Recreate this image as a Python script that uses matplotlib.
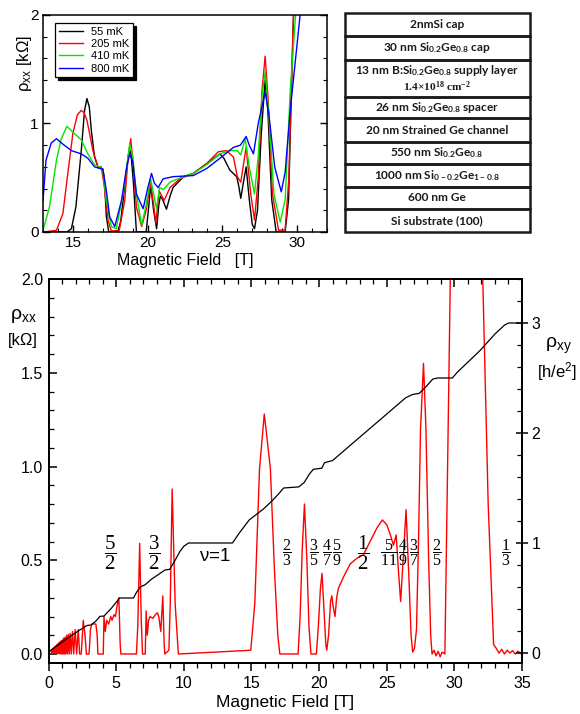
import matplotlib
matplotlib.use("Agg")
import matplotlib.pyplot as plt
from matplotlib.ticker import MultipleLocator
from matplotlib.patches import Rectangle

plt.rcParams["font.family"] = ["Liberation Sans", "DejaVu Sans"]
plt.rcParams["mathtext.default"] = "regular"

# ---------------- data ----------------
# temperature series (inset): magnetic field [T] and rho_xx [kOhm]
temp_labels = ["55 mK", "205 mK", "410 mK", "800 mK"]
temp_colors = ["#000000", "#ff0000", "#00e600", "#0000ff"]

b_55 = [13.0, 14.6, 14.9, 15.2, 15.56, 15.78, 15.94, 16.1, 16.23, 16.45, 16.7, 17.0, 17.1, 17.24,
        17.4, 18.0, 18.2, 18.45, 18.7, 18.87, 19.05, 19.25, 19.9, 20.05, 20.2, 20.4, 20.6, 20.75,
        20.85, 21.0, 21.26, 21.5, 21.7, 22.4, 23.05, 23.95, 24.84, 25.1, 25.5, 25.96, 26.1, 26.23,
        26.4, 26.59, 26.8, 27.0, 27.15, 27.35, 27.6, 27.86, 28.05, 28.3, 28.6, 29.2, 29.43, 29.6,
        29.76, 29.9]
r_55 = [0.0, 0.0, 0.03, 0.23, 0.75, 1.12, 1.23, 1.15, 0.94, 0.69, 0.59, 0.58, 0.5, 0.14,
        0.0, 0.0, 0.1, 0.4, 0.7, 0.75, 0.45, 0.0, 0.0, 0.2, 0.43, 0.2, 0.03, 0.25,
        0.33, 0.3, 0.21, 0.33, 0.41, 0.51, 0.54, 0.63, 0.72, 0.68, 0.57, 0.51, 0.42, 0.31,
        0.45, 0.6, 0.3, 0.07, 0.03, 0.2, 0.9, 1.4, 1.1, 0.3, 0.0, 0.0, 0.3, 1.2,
        2.0, 2.5]

b_205 = [13.0, 13.9, 14.33, 14.66, 15.0, 15.3, 15.56, 15.75, 15.94, 16.34, 16.68, 16.9, 17.1,
         17.35, 17.57, 18.1, 18.47, 18.7, 18.87, 19.05, 19.25, 19.6, 19.9, 20.19, 20.4, 20.55,
         20.77, 21.1, 21.5, 22.16, 23.05, 23.95, 24.73, 25.28, 25.74, 26.0, 26.23, 26.59, 26.9,
         27.15, 27.4, 27.65, 27.86, 28.05, 28.35, 28.76, 29.2, 29.45, 29.6, 29.76, 29.9]
r_205 = [0.0, 0.015, 0.17, 0.54, 0.91, 1.08, 1.12, 1.1, 1.03, 0.75, 0.6, 0.6, 0.42,
         0.11, 0.01, 0.015, 0.29, 0.7, 0.86, 0.6, 0.23, 0.05, 0.2, 0.46, 0.25, 0.08,
         0.38, 0.29, 0.41, 0.49, 0.54, 0.63, 0.74, 0.75, 0.69, 0.51, 0.46, 0.78, 0.35,
         0.11, 0.5, 1.3, 1.62, 1.25, 0.35, 0.015, 0.02, 0.5, 1.3, 2.0, 2.5]

b_410 = [13.0, 13.43, 13.9, 14.2, 14.6, 15.0, 15.56, 16.0, 16.45, 16.8, 17.0, 17.24, 17.57, 17.9,
         18.36, 18.8, 19.0, 19.25, 19.6, 19.9, 20.2, 20.4, 20.6, 20.8, 21.04, 21.5, 22.4, 23.05,
         23.95, 24.84, 25.5, 26.0, 26.23, 26.52, 26.8, 27.15, 27.4, 27.65, 27.86, 28.1, 28.45,
         28.87, 29.2, 29.54, 29.9, 30.05]
r_410 = [0.015, 0.23, 0.66, 0.85, 0.975, 0.92, 0.85, 0.72, 0.62, 0.6, 0.57, 0.29, 0.05, 0.03,
         0.35, 0.81, 0.7, 0.35, 0.06, 0.25, 0.49, 0.35, 0.215, 0.41, 0.39, 0.46, 0.51, 0.54,
         0.62, 0.72, 0.75, 0.75, 0.71, 0.86, 0.6, 0.35, 0.7, 1.25, 1.48, 1.1, 0.35,
         0.09, 0.3, 1.3, 2.0, 2.5]

b_800 = [13.0, 13.2, 13.55, 13.9, 14.33, 14.9, 15.56, 16.0, 16.45, 17.0, 17.24, 17.46, 17.8,
         18.25, 18.6, 18.8, 19.0, 19.25, 19.7, 20.0, 20.26, 20.45, 20.7, 21.04, 21.7, 23.05,
         23.95, 24.84, 25.74, 26.2, 26.59, 26.8, 27.08, 27.4, 27.86, 28.1, 28.5, 28.94, 29.2,
         29.54, 30.2, 30.4]
r_800 = [0.29, 0.66, 0.82, 0.86, 0.81, 0.75, 0.72, 0.68, 0.6, 0.58, 0.38, 0.14, 0.05,
         0.29, 0.6, 0.72, 0.65, 0.35, 0.215, 0.4, 0.54, 0.45, 0.41, 0.49, 0.51, 0.52,
         0.585, 0.68, 0.78, 0.8, 0.88, 0.8, 0.72, 1.0, 1.29, 1.1, 0.6, 0.37, 0.55,
         1.12, 2.0, 2.3]

temp_fields = [b_55, b_205, b_410, b_800]
temp_rxx = [r_55, r_205, r_410, r_800]

# base-temperature sweep: longitudinal resistivity rho_xx [kOhm]
rxx_field = [0.0, 0.2, 0.25, 0.285, 0.32, 0.355, 0.39, 0.425, 0.46, 0.495, 0.53, 0.565, 0.6,
             0.635, 0.67, 0.705, 0.74, 0.78, 0.82, 0.86, 0.9, 0.94, 0.98, 1.025, 1.07, 1.12,
             1.17, 1.225, 1.28, 1.34, 1.4, 1.465, 1.53, 1.605, 1.68, 1.77, 1.86, 1.97, 2.08,
             2.2, 2.3, 2.42, 2.57, 2.7, 2.8, 3.0, 3.1, 3.2,
             3.5, 3.6, 3.65, 4.05, 4.1, 4.2, 4.3, 4.45, 4.6, 4.7, 4.85, 4.95, 5.05, 5.2, 5.3,
             5.35, 6.5, 6.6, 6.74, 6.85, 6.95, 7.15, 7.22, 7.3, 7.4, 7.5, 7.7, 7.9, 8.05, 8.15,
             8.3, 8.45, 8.55, 8.6, 8.9, 9.0, 9.14, 9.36, 9.6, 14.95, 15.25, 15.6, 15.95, 16.4,
             16.7, 16.95, 17.1, 18.45, 18.6, 18.75, 18.92, 19.1, 19.25, 19.4, 19.8, 19.95, 20.1,
             20.22, 20.35, 20.5, 20.57, 20.7, 20.85, 20.94, 21.05, 21.18, 21.3, 21.43, 21.8,
             22.3, 22.78, 23.28, 23.77, 24.26, 24.68, 25.0, 25.25, 25.5, 25.7, 25.86, 26.03,
             26.23, 26.43, 26.65, 26.8, 26.92, 27.05, 27.2, 27.35, 27.5, 27.72, 27.9, 28.1,
             28.25, 28.35, 28.5, 28.65, 28.8, 28.95, 29.1, 29.3, 29.5, 29.7, 30.2, 31.6, 32.1,
             32.5, 32.9, 33.1, 33.3, 33.5, 33.7, 33.9, 34.1, 34.3, 34.5, 34.7, 34.9, 35.0]
rxx_value = [0.01, 0.02, 0.005, 0.025, 0.004, 0.03, 0.004, 0.035, 0.003, 0.04, 0.003, 0.045,
             0.003, 0.05, 0.002, 0.055, 0.002, 0.06, 0.001, 0.065, 0.001, 0.07, 0.0, 0.075,
             0.0, 0.085, 0.0, 0.09, 0.0, 0.1, 0.0, 0.105, 0.0, 0.11, 0.0, 0.12, 0.0, 0.13,
             0.0, 0.13, 0.0, 0.0, 0.18, 0.1, 0.0, 0.0, 0.13, 0.16,
             0.16, 0.1, 0.0, 0.0, 0.2, 0.12, 0.18, 0.16, 0.2, 0.18, 0.21, 0.2,
             0.25, 0.3, 0.05, 0.0, 0.0, 0.15, 0.59, 0.2, 0.0, 0.0, 0.23, 0.1, 0.18, 0.2, 0.19,
             0.21, 0.22, 0.2, 0.12, 0.31, 0.05, 0.0, 0.02, 0.27, 0.88, 0.27, 0.0, 0.02, 0.27,
             0.99, 1.28, 0.99, 0.45, 0.1, 0.0, 0.0, 0.2, 0.55, 0.8, 0.5, 0.15, 0.0, 0.0, 0.15,
             0.35, 0.43, 0.25, 0.05, 0.02, 0.1, 0.28, 0.31, 0.25, 0.2, 0.3, 0.35, 0.41, 0.48,
             0.51, 0.53, 0.6, 0.67, 0.715, 0.69, 0.64, 0.58, 0.635, 0.45, 0.28, 0.52, 0.77,
             0.39, 0.1, 0.01, 0.03, 0.13, 0.6, 1.2, 1.55, 1.2, 0.5,
             0.1, 0.0, 0.02, -0.01, 0.015, -0.015, 0.01, 0.0, 1.0, 2.0, 4.0, 4.0, 2.0,
             0.8, 0.05, 0.03, 0.005, 0.025, 0.0, 0.02, 0.005, 0.018, 0.0, 0.015, 0.002, 0.012]

# Hall resistivity rho_xy [h/e^2]
rxy_field = [0.0, 1.35, 2.33, 2.85, 3.15, 3.5, 3.8, 4.1, 4.6, 5.0, 5.25, 6.28, 6.5, 6.77, 7.14,
             7.6, 8.2, 8.62, 8.95, 9.3, 9.7, 10.0, 10.35, 13.6, 14.1, 14.84, 15.9, 16.5, 17.0,
             17.38, 18.5, 18.9, 19.3, 19.58, 20.2, 20.4, 21.0, 26.4, 26.9, 27.4, 27.9, 28.4,
             28.75, 29.85, 30.2, 31.9, 33.0, 33.7, 34.0, 35.0]
rxy_value = [0.01, 0.13, 0.21, 0.25, 0.255, 0.29, 0.333, 0.336, 0.4, 0.46, 0.5, 0.5, 0.55, 0.6,
             0.62, 0.67, 0.72, 0.755, 0.76, 0.83, 0.92, 0.97, 1.0, 1.0, 1.09, 1.21, 1.31, 1.38,
             1.445, 1.5, 1.51, 1.55, 1.63, 1.67, 1.68, 1.73, 1.75, 2.32, 2.35, 2.36, 2.42, 2.49,
             2.5, 2.5, 2.55, 2.75, 2.9, 2.98, 3.0, 3.0]

# filling-factor labels and the fields where they sit
frac_num = ["5", "3", "2", "3", "4", "5", "1", "5", "4", "3", "2", "1"]
frac_den = ["2", "2", "3", "5", "7", "9", "2", "11", "9", "7", "5", "3"]
frac_field = [4.55, 7.8, 17.65, 19.65, 20.6, 21.3, 23.3, 25.2, 26.2, 27.0, 28.75, 33.8]
frac_large = [True, True, False, False, False, False, True, False, False, False, False, False]

# heterostructure layer stack, top to bottom
layer_text = [
    "2nmSi cap",
    "30 nm Si$_{0.2}$Ge$_{0.8}$ cap",
    "13 nm B:Si$_{0.2}$Ge$_{0.8}$ supply layer",
    "26 nm Si$_{0.2}$Ge$_{0.8}$ spacer",
    "20 nm Strained Ge channel",
    "550 nm Si$_{0.2}$Ge$_{0.8}$",
    "1000 nm Si$_{0-0.2}$Ge$_{1-0.8}$",
    "600 nm Ge",
    "Si substrate (100)",
]
doping_text = "1.4\u00d710$^{18}$ cm$^{-2}$"

# ---------------- figure ----------------
W, H = 580, 714
fig = plt.figure(figsize=(W / 100, H / 100), dpi=100)


def px_axes(x0, y0, x1, y1):
    return fig.add_axes([x0 / W, 1 - y1 / H, (x1 - x0) / W, (y1 - y0) / H])


# ---- inset: temperature dependence ----
ax_t = px_axes(43, 15, 327, 232)
for lab, col, b, r in zip(temp_labels, temp_colors, temp_fields, temp_rxx):
    ax_t.plot(b, r, color=col, lw=1.0, label=lab)
ax_t.set_xlim(13, 32)
ax_t.set_ylim(0, 2)
ax_t.xaxis.set_major_locator(MultipleLocator(5))
ax_t.xaxis.set_minor_locator(MultipleLocator(1))
ax_t.yaxis.set_major_locator(MultipleLocator(1))
ax_t.yaxis.set_minor_locator(MultipleLocator(0.2))
ax_t.tick_params(which="both", direction="in", right=True, top=False, labelsize=11, pad=3)
ax_t.tick_params(which="major", length=5, width=1)
ax_t.tick_params(which="minor", length=3, width=0.8)
for s in ax_t.spines.values():
    s.set_linewidth(1.1)
leg = ax_t.legend(loc="upper left", bbox_to_anchor=(0.042, 0.963), borderaxespad=0,
                  fontsize=8, frameon=True, fancybox=False,
                  shadow={"color": "black", "alpha": 1.0}, edgecolor="black",
                  framealpha=1, handlelength=2.2, borderpad=0.35, labelspacing=0.2,
                  handletextpad=0.7)
leg.get_frame().set_linewidth(0.9)
fig.text(185 / W, 1 - 260 / H, "Magnetic Field   [T]", ha="center", va="center", fontsize=11.5)
fig.text(25 / W, 1 - 63 / H, "\u03c1$_{xx}$ [k\u03a9]", rotation=90, ha="center", va="center",
         fontsize=12)

# ---- layer stack ----
ax_l = px_axes(344, 13, 530, 232)
ax_l.set_xlim(344, 530)
ax_l.set_ylim(232, 13)
ax_l.axis("off")
bounds = [13.3, 35.7, 60, 96.7, 118.3, 141.7, 164.3, 186.7, 209, 231.7]
layer_font = dict(family="Lato", weight="bold", fontsize=8.6, color="#1a1a1a")
for i, txt in enumerate(layer_text):
    top, bot = bounds[i], bounds[i + 1]
    ax_l.add_patch(Rectangle((344.5, top), 185, bot - top, fill=False, lw=1.8, ec="#1a1a1a",
                             clip_on=False))
    if i == 2:
        ax_l.text(437, top + 10.5, txt, ha="center", va="center", **layer_font)
        ax_l.text(437, top + 27, doping_text, ha="center", va="center", fontsize=8.2,
                  family="Liberation Serif", weight="bold", color="#1a1a1a")
    else:
        ax_l.text(437, (top + bot) / 2, txt, ha="center", va="center", **layer_font)

# ---- main panel ----
ax = px_axes(48.5, 279, 522, 663)
ax.plot(rxx_field, rxx_value, color="#ff0000", lw=1.0)
ax.set_xlim(0, 35)
ax.set_ylim(-0.048, 2.0)
ax.xaxis.set_major_locator(MultipleLocator(5))
ax.xaxis.set_minor_locator(MultipleLocator(1))
ax.yaxis.set_major_locator(MultipleLocator(0.5))
ax.yaxis.set_minor_locator(MultipleLocator(0.1))
ax.tick_params(axis="x", which="both", direction="out", labelsize=11.5, pad=4)
ax.tick_params(axis="y", which="both", direction="in", labelsize=11.5, pad=4)
ax.tick_params(which="major", length=5.5, width=1.1)
ax.tick_params(which="minor", length=3.5, width=0.9)

ax2 = ax.twinx()
ax2.plot(rxy_field, rxy_value, color="black", lw=0.9)
ax2.set_ylim(-0.091, 3.4)
ax2.yaxis.set_major_locator(MultipleLocator(1))
ax2.yaxis.set_minor_locator(MultipleLocator(0.2))
ax2.tick_params(axis="y", which="major", direction="inout", length=8, width=1.1, labelsize=11.5,
                pad=3)
ax2.tick_params(axis="y", which="minor", direction="in", length=3.5, width=0.9)
# top ticks pointing inward (locators are shared with the bottom axis)
ax2.xaxis.set_visible(True)
ax2.tick_params(axis="x", which="both", direction="in", bottom=False, top=True,
                labelbottom=False, labeltop=False)
ax2.tick_params(axis="x", which="major", length=5.5, width=1.1)
ax2.tick_params(axis="x", which="minor", length=3.5, width=0.9)
for a in (ax, ax2):
    for s in a.spines.values():
        s.set_linewidth(1.3)

for num, den, b, big in zip(frac_num, frac_den, frac_field, frac_large):
    ax.text(b, 0.54, r"$\dfrac{%s}{%s}$" % (num, den), ha="center", va="center",
            fontsize=15 if big else 11.5, family="Liberation Serif")
ax.text(12.3, 0.52, r"$\nu$=1", ha="center", va="center", fontsize=13.5, math_fontfamily="stix")

fig.text(285 / W, 1 - 703 / H, "Magnetic Field [T]", ha="center", va="center", fontsize=12.5)
fig.text(23 / W, 1 - 316 / H, "\u03c1$_{xx}$", ha="center", va="center", fontsize=14)
fig.text(23 / W, 1 - 340 / H, "[k\u03a9]", ha="center", va="center", fontsize=12)
fig.text(558 / W, 1 - 346 / H, "\u03c1$_{xy}$", ha="center", va="center", fontsize=14)
fig.text(557 / W, 1 - 372 / H, "[h/e$^{2}$]", ha="center", va="center", fontsize=12)

fig.savefig("out.png", dpi=100)
